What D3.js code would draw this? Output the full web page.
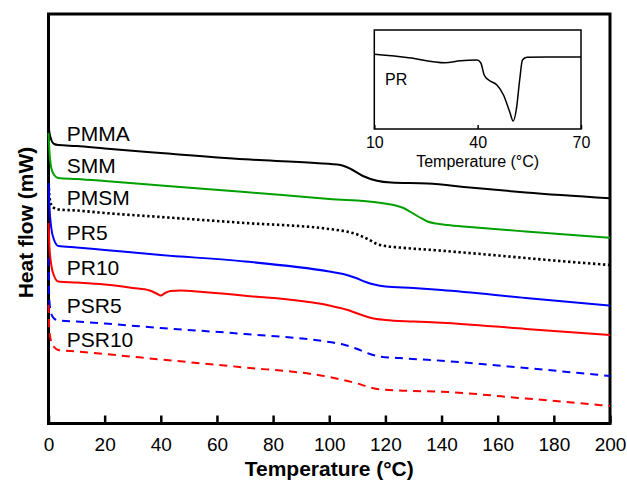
<!DOCTYPE html>
<html>
<head>
<meta charset="utf-8">
<script src="https://cdn.jsdelivr.net/npm/d3@7"></script>
<style>
  body { margin: 0; background: #fff; }
  text { font-family: Arial, "Liberation Sans", sans-serif; }
</style>
</head>
<body>
<div id="chart"></div>
<script>
// DSC traces, heat flow in arbitrary mW offsets (curves are stacked)
const tPMMA = [0, 0.3, 1, 2, 3.5, 10, 20, 40, 70, 95, 104, 108, 112, 117, 122, 135, 150, 170, 200];
const hPMMA = [29.85, 29.15, 28.35, 27.95, 27.85, 27.75, 27.5, 27.05, 26.42, 26.05, 25.85, 25.4, 24.75, 24.28, 24.1, 24.0, 23.6, 23.1, 22.52];

const tSMM = [0, 0.3, 1, 2, 3.5, 10, 20, 40, 70, 100, 118, 123, 126, 129, 132, 135, 138, 142, 150, 170, 200];
const hSMM = [29.05, 27.35, 25.55, 24.85, 24.55, 24.45, 24.25, 23.8, 23.15, 22.45, 22.08, 21.85, 21.6, 21.15, 20.65, 20.2, 20.0, 19.85, 19.65, 19.2, 18.58];

const tPMSM = [0, 0.3, 1, 2, 3.5, 10, 20, 40, 70, 100, 106, 110, 114, 117, 120, 125, 140, 160, 180, 200];
const hPMSM = [24.55, 22.85, 21.85, 21.55, 21.4, 21.3, 21.05, 20.65, 20.05, 19.45, 19.2, 18.9, 18.4, 17.95, 17.75, 17.6, 17.28, 16.8, 16.3, 15.85];

const tPR5 = [0, 0.3, 1, 2, 3.5, 10, 20, 40, 70, 100, 105, 109, 113, 116, 120, 130, 140, 170, 200];
const hPR5 = [24.05, 21.85, 19.55, 18.35, 17.75, 17.6, 17.35, 16.85, 16.2, 15.2, 14.95, 14.6, 14.15, 13.9, 13.7, 13.55, 13.35, 12.55, 11.78];

const tPR10 = [0, 0.3, 1, 2, 3.5, 10, 20, 30, 36, 38.5, 40, 41.5, 43.5, 47, 55, 70, 100, 106, 111, 115, 120, 130, 140, 170, 200];
const hPR10 = [20.05, 17.85, 15.85, 14.75, 14.2, 14.1, 13.9, 13.55, 13.3, 13.0, 12.8, 13.05, 13.25, 13.3, 13.15, 12.78, 11.8, 11.4, 10.9, 10.55, 10.35, 10.2, 10.08, 9.45, 8.85];

const tPSR5 = [0, 0.3, 1, 2, 3.5, 10, 20, 40, 70, 100, 105, 110, 114, 118, 125, 140, 170, 200];
const hPSR5 = [16.55, 12.35, 10.95, 10.5, 10.3, 10.2, 10.0, 9.55, 8.95, 8.15, 7.9, 7.45, 7.0, 6.7, 6.55, 6.28, 5.55, 4.75];

const tPSR10 = [0, 0.3, 1, 2, 3.5, 10, 20, 40, 68, 100, 105, 110, 114, 118, 125, 140, 170, 200];
const hPSR10 = [11.85, 9.35, 8.15, 7.65, 7.35, 7.2, 6.95, 6.4, 5.65, 4.65, 4.35, 4.0, 3.65, 3.42, 3.3, 3.18, 2.5, 1.75];

// inset: PR
const tPR = [10, 20, 30.5, 35, 39.8, 40.9, 41.9, 43.2, 45.6, 47.5, 49.3, 50.3, 51.2, 52.2, 53, 54.3, 60, 70];
const hPR = [7.47, 7.13, 6.63, 6.83, 6.9, 6.63, 5.4, 4.9, 4.4, 3.4, 1.73, 0.8, 1.9, 4.9, 6.9, 7.17, 7.2, 7.2];

const xTicks = [0, 20, 40, 60, 80, 100, 120, 140, 160, 180, 200];
const insetTicks = [10, 40, 70];

const series = [
    {name: 'PMMA',  t: tPMMA,  h: hPMMA,  color: '#000000', dash: null,    label: 28.3},
    {name: 'SMM',   t: tSMM,   h: hSMM,   color: '#00a000', dash: null,    label: 25.1},
    {name: 'PMSM',  t: tPMSM,  h: hPMSM,  color: '#000000', dash: 'dot',   label: 21.85},
    {name: 'PR5',   t: tPR5,   h: hPR5,   color: '#0000ff', dash: null,    label: 18.35},
    {name: 'PR10',  t: tPR10,  h: hPR10,  color: '#ff0000', dash: null,    label: 14.85},
    {name: 'PSR5',  t: tPSR5,  h: hPSR5,  color: '#0000ff', dash: 'dash',  label: 11.05},
    {name: 'PSR10', t: tPSR10, h: hPSR10, color: '#ff0000', dash: 'dash',  label: 7.7}
];

// 1. chart space
const width = 627;
const height = 486;
const margin = ({top: 14, right: 17, bottom: 62.5, left: 48.5});

const svg = d3.create('svg')
    .attr('width', width)
    .attr('height', height);

// 2. scales
const xScale = d3.scaleLinear()
    .domain([0, 200])
    .range([margin.left, width - margin.right]);

const yScale = d3.scaleLinear()
    .domain([0, 40.95])
    .range([height - margin.bottom, margin.top]);

// 3. frame + x axis
svg.append('rect')
    .attr('x', margin.left)
    .attr('y', margin.top)
    .attr('width', width - margin.left - margin.right)
    .attr('height', height - margin.top - margin.bottom)
    .attr('fill', 'none')
    .attr('stroke', '#000')
    .attr('stroke-width', 3);

const xAxis = svg.append('g')
    .attr('transform', `translate(0, ${height - margin.bottom})`)
    .call(d3.axisBottom(xScale).tickValues(xTicks).tickSize(-8).tickPadding(14));
xAxis.select('.domain').remove();
xAxis.selectAll('.tick line').attr('stroke', '#000').attr('stroke-width', 2.5);
xAxis.selectAll('.tick text')
    .attr('font-size', 19)
    .attr('font-family', 'Arial, "Liberation Sans", sans-serif')
    .attr('fill', '#000');

svg.append('text')
    .attr('x', (margin.left + width - margin.right) / 2)
    .attr('y', 475.5)
    .attr('text-anchor', 'middle')
    .attr('font-size', 21)
    .attr('font-weight', 'bold')
    .text('Temperature (°C)');

svg.append('text')
    .attr('transform', 'translate(32.5, 222.5) rotate(-90)')
    .attr('text-anchor', 'middle')
    .attr('font-size', 21)
    .attr('font-weight', 'bold')
    .text('Heat flow (mW)');

// 4. curves
const line = d3.line()
    .x(d => xScale(d[0]))
    .y(d => yScale(d[1]))
    .curve(d3.curveMonotoneX);

series.forEach(s => {
    const pts = s.t.map((t, i) => [t, s.h[i]]);
    const path = svg.append('path')
        .datum(pts)
        .attr('d', line)
        .attr('fill', 'none')
        .attr('stroke', s.color)
        .attr('stroke-width', 2);
    if (s.dash == 'dot') {
        path.attr('stroke-width', 2.6).attr('stroke-dasharray', '2.4 2.6');
    } else if (s.dash == 'dash') {
        path.attr('stroke-dasharray', '8 6');
    }

    svg.append('text')
        .attr('x', xScale(6.5))
        .attr('y', yScale(s.label))
        .attr('font-size', 21)
        .attr('fill', '#000')
        .text(s.name);
});

// 5. inset
const inset = ({left: 374.3, right: 581, top: 30, bottom: 129});

const ixScale = d3.scaleLinear()
    .domain([10, 70])
    .range([inset.left, inset.right]);

const iyScale = d3.scaleLinear()
    .domain([0, 9.9])
    .range([inset.bottom, inset.top]);

svg.append('rect')
    .attr('x', inset.left)
    .attr('y', inset.top)
    .attr('width', inset.right - inset.left)
    .attr('height', inset.bottom - inset.top)
    .attr('fill', '#fff')
    .attr('stroke', '#000')
    .attr('stroke-width', 1.5);

const iAxis = svg.append('g')
    .attr('transform', `translate(0, ${inset.bottom})`)
    .call(d3.axisBottom(ixScale).tickValues(insetTicks).tickSize(-4).tickPadding(8));
iAxis.select('.domain').remove();
iAxis.selectAll('.tick line').attr('stroke', '#000').attr('stroke-width', 1.5);
iAxis.selectAll('.tick text')
    .attr('font-size', 16)
    .attr('font-family', 'Arial, "Liberation Sans", sans-serif')
    .attr('fill', '#000');

svg.append('text')
    .attr('x', ixScale(40))
    .attr('y', 166.5)
    .attr('text-anchor', 'middle')
    .attr('font-size', 16)
    .text('Temperature (°C)');

const iline = d3.line()
    .x(d => ixScale(d[0]))
    .y(d => iyScale(d[1]))
    .curve(d3.curveMonotoneX);

svg.append('path')
    .datum(tPR.map((t, i) => [t, hPR[i]]))
    .attr('d', iline)
    .attr('fill', 'none')
    .attr('stroke', '#000')
    .attr('stroke-width', 1.5);

svg.append('text')
    .attr('x', ixScale(13.1))
    .attr('y', iyScale(4.4))
    .attr('font-size', 16)
    .text('PR');

document.getElementById("chart").appendChild(svg.node());
</script>
</body>
</html>
